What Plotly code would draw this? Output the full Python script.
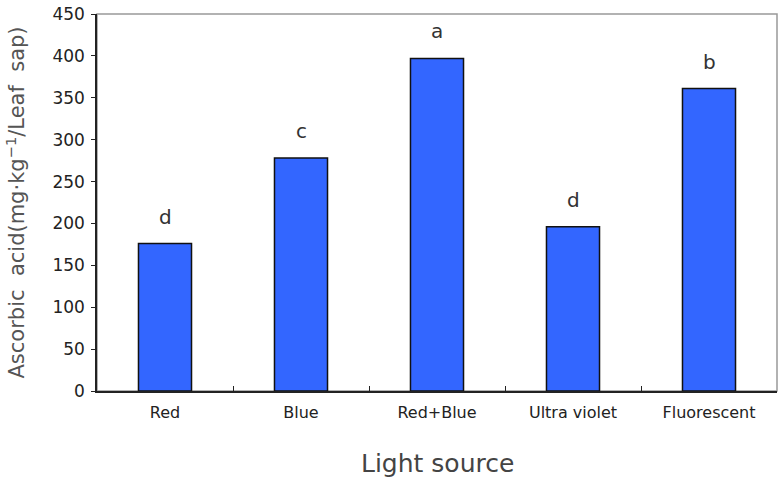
import plotly.graph_objects as go

categories = ["Red", "Blue", "Red+Blue", "Ultra violet", "Fluorescent"]
values = [176, 278, 397, 196, 361]
letters = ["d", "c", "a", "d", "b"]
y_ticks = [0, 50, 100, 150, 200, 250, 300, 350, 400, 450]

fig = go.Figure()
fig.add_trace(go.Bar(
    x=categories, y=values,
    marker=dict(color="#3366FF", line=dict(color="#111111", width=1.5)),
    width=0.39,
))
for c, v, l in zip(categories, values, letters):
    fig.add_annotation(x=c, y=v, text=l, showarrow=False, yshift=27,
                       font=dict(size=20, color="#333333", family="DejaVu Sans"))

fig.add_shape(type="rect", xref="paper", yref="paper", x0=0, x1=1, y0=0, y1=1,
              line=dict(color="#999999", width=1.5), layer="below")

fig.add_annotation(xref="paper", yref="paper", x=-82/680, y=0.5,
                   text="Ascorbic  acid(mg·kg<sup>−1</sup>/Leaf  sap)", textangle=-90,
                   showarrow=False, xanchor="center", yanchor="middle",
                   font=dict(size=21, color="#555555", family="DejaVu Sans"))
fig.add_annotation(xref="paper", yref="paper", x=0.5, y=-89/377,
                   text="Light source", showarrow=False,
                   xanchor="center", yanchor="bottom",
                   font=dict(size=25, color="#444444", family="DejaVu Sans"))

fig.update_layout(
    width=782, height=481,
    margin=dict(l=97, r=5, t=14, b=90),
    plot_bgcolor="white", paper_bgcolor="white",
    showlegend=False,
    font=dict(family="DejaVu Sans", color="#333333"),
    xaxis=dict(
        showline=True, linecolor="#222222", linewidth=1.5, automargin=False,
        ticks="inside", tickson="boundaries", ticklen=5, tickcolor="#222222",
        tickfont=dict(size=16, color="#222222"), ticklabelstandoff=6,
        showgrid=False,
    ),
    yaxis=dict(
        range=[0, 450], tickvals=y_ticks, automargin=False,
        showline=True, linecolor="#222222", linewidth=1.5,
        ticks="outside", ticklen=4, tickcolor="#222222",
        tickfont=dict(size=17, color="#222222"), ticklabelstandoff=3,
        showgrid=False, zeroline=False,
    ),
)
fig.write_html("out.html")
